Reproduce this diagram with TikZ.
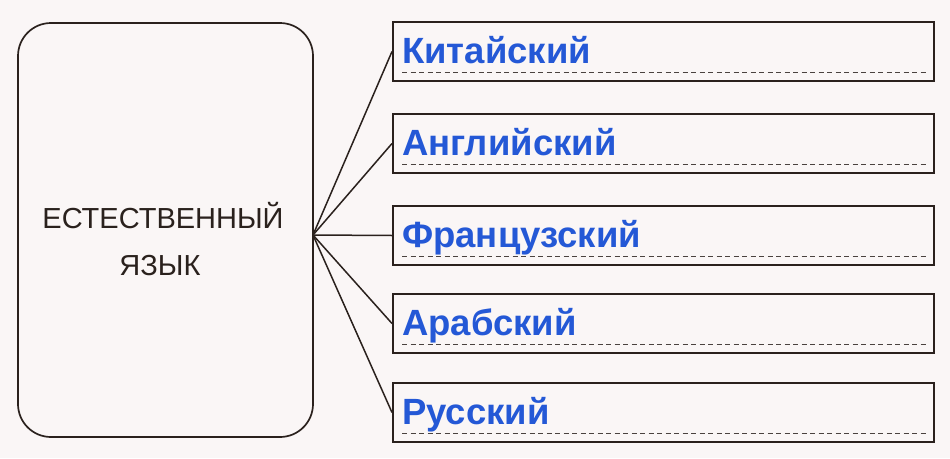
\documentclass[tikz,border=0pt]{standalone}
\usepackage{fontspec}
\setmainfont{Liberation Sans}
\setsansfont{Liberation Sans}
\definecolor{ink}{HTML}{2A211D}
\definecolor{langblue}{HTML}{2458D6}
\definecolor{paper}{HTML}{FAF6F6}
\begin{document}
\begin{tikzpicture}[x=1pt,y=-1pt,
  frame/.style={draw=ink, line width=2pt},
  bigbox/.style={draw=ink, line width=1.7pt, rounded corners=33pt},
  langbox/.style={frame, minimum width=541pt, minimum height=59pt, anchor=north west, inner sep=0pt},
  langtext/.style={anchor=base west, inner sep=0pt, text=langblue, font=\fontsize{36.5}{40}\selectfont\bfseries},
  maintext/.style={anchor=base, inner sep=0pt, text=ink, font=\fontsize{29}{35}\selectfont},
  link/.style={draw=ink, line width=1.5pt},
  dotline/.style={draw=ink!85, line width=0.9pt, dash pattern=on 5pt off 3.5pt}
]
\fill[paper] (0,0) rectangle (950,458);
\useasboundingbox (0,0) rectangle (950,458);

\draw[bigbox] (18,23) rectangle (313,437);
\node[maintext] (t1) at (163,228) {ЕСТЕСТВЕННЫЙ};
\node[maintext] (t2) at (160,275) {ЯЗЫК};
\coordinate (hub) at (313,235);

\foreach \i/\y/\name in {1/21/Китайский, 2/113/Английский, 3/205/Французский, 4/293/Арабский, 5/382/Русский}{
  \node[langbox] (b\i) at (392,\y) {};
  \node[langtext] (l\i) at ([shift={(10pt,-42pt)}]b\i.north west) {\name};
  \coordinate (d\i a) at ([shift={(10pt,10pt)}]b\i.south west);
  \coordinate (d\i b) at ([shift={(-8pt,10pt)}]b\i.south east);
  \draw[dotline] (d\i a) -- (d\i b);
  \draw[link] (hub) -- (b\i.west);
}
\end{tikzpicture}
\end{document}
